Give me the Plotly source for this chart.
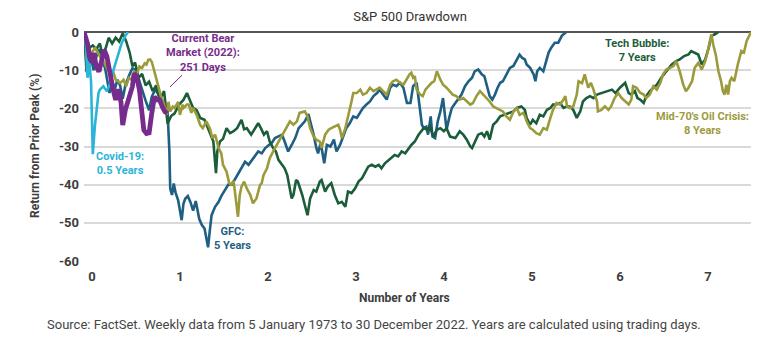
import plotly.graph_objects as go

# ---- Drawdown paths: years since prior peak vs. % return from that peak ----
tech_years = [0.00, 0.03, 0.05, 0.07, 0.10, 0.14, 0.18, 0.21, 0.25, 0.28, 0.32, 0.36, 0.40, 0.44, 0.48,
              0.52, 0.55, 0.58, 0.62, 0.66, 0.70, 0.74, 0.78, 0.82, 0.86, 0.91, 0.95, 0.99, 1.03, 1.08,
              1.13, 1.17, 1.20, 1.24, 1.28, 1.32, 1.37, 1.41, 1.44, 1.47, 1.50, 1.515, 1.545, 1.58, 1.62,
              1.66, 1.70, 1.74, 1.77, 1.79, 1.82, 1.85, 1.90, 1.94, 1.98, 2.01, 2.045, 2.08, 2.11, 2.15,
              2.18, 2.21, 2.25, 2.28, 2.31, 2.34, 2.36, 2.38, 2.41, 2.43, 2.45, 2.48, 2.51, 2.54, 2.57,
              2.61, 2.64, 2.68, 2.70, 2.74, 2.77, 2.81, 2.85, 2.89, 2.93, 2.97, 3.00, 3.04, 3.08, 3.12,
              3.16, 3.20, 3.23, 3.27, 3.31, 3.35, 3.38, 3.42, 3.46, 3.49, 3.53, 3.57, 3.61, 3.65, 3.69,
              3.72, 3.76, 3.80, 3.86, 3.90, 3.93, 3.97, 4.01, 4.05, 4.09, 4.12, 4.16, 4.22, 4.27, 4.31,
              4.35, 4.39, 4.41, 4.44, 4.48, 4.52, 4.55, 4.58, 4.61, 4.65, 4.69, 4.73, 4.78, 4.82, 4.88,
              4.92, 4.97, 5.01, 5.03, 5.07, 5.10, 5.14, 5.18, 5.22, 5.26, 5.30, 5.33, 5.37, 5.41, 5.45,
              5.49, 5.52, 5.56, 5.60, 5.64, 5.67, 5.71, 5.75, 5.79, 5.83, 5.88, 5.94, 6.00, 6.04, 6.09,
              6.15, 6.19, 6.22, 6.26, 6.29, 6.32, 6.36, 6.39, 6.43, 6.47, 6.51, 6.56, 6.62, 6.68, 6.73,
              6.77, 6.82, 6.87, 6.90, 6.94, 6.98, 7.02, 7.06, 7.10, 7.13, 7.17, 7.21]
tech_pct = [0, -10.5, -6, -4, -3.5, -4.5, -3, -6, -4, -1.5, -3, -1.5, -2.5, -0.3, -2.5,
            -5.5, -9, -8, -12, -11, -14, -13, -15.5, -14, -17.8, -15.5, -24, -22, -21.3, -19,
            -17.8, -16, -17.7, -19.9, -20.5, -22.5, -23, -25.2, -26.9, -28.7, -37, -31.3, -28.7, -28, -25.2,
            -26.5, -26, -25.2, -23.9, -23, -25.5, -25.2, -26.9, -25.5, -23.9, -25.2, -26.9, -26, -28.7, -30.4,
            -31.3, -33.5, -34.8, -35.7, -37.5, -41.8, -43.6, -42.7, -38.8, -39.2, -40.5, -42.7, -45.4, -48, -43.6,
            -41.4, -41.8, -39.2, -38.8, -41.8, -40.5, -39.6, -42.7, -44.9, -44.5, -45.8, -41.8, -42.2, -41, -39.2,
            -38.3, -36.6, -35.3, -34.8, -35.3, -34.8, -35.7, -34.4, -33.5, -33.1, -32.2, -32.6, -31.3, -31.8, -30.4,
            -29.6, -28.7, -27, -25.2, -25.6, -24.8, -27.4, -25.6, -25.2, -26, -25.2, -27.4, -27.8, -26, -26.9,
            -28.2, -30, -30.4, -28.7, -26.9, -26.5, -27.4, -26, -28.2, -24.3, -23.4, -22.1, -21.7, -21.2, -20.8,
            -19.9, -19.5, -20.4, -22.5, -24.3, -23, -23.9, -21.7, -22.1, -20.4, -19.9, -19, -19, -18.6, -19.9,
            -19.5, -19.5, -20.4, -22.5, -20.8, -18.2, -17.3, -16.8, -17.3, -16.4, -16, -15.5, -15.1, -16, -14.6,
            -13.3, -16, -16.4, -15.5, -17.3, -17.7, -18.6, -16.8, -15.5, -14.6, -13.8, -12, -10.3, -8.5, -7.6,
            -7.2, -6.3, -5.9, -5, -5.4, -5.9, -8.5, -7.2, -4.1, -1, -0.6, 0]

gfc_years = [0.00, 0.03, 0.06, 0.09, 0.11, 0.14, 0.17, 0.20, 0.24, 0.27, 0.29, 0.32, 0.35, 0.38, 0.41,
             0.44, 0.47, 0.51, 0.55, 0.59, 0.63, 0.66, 0.70, 0.74, 0.77, 0.81, 0.85, 0.89, 0.92, 0.95,
             0.97, 0.98, 1.00, 1.02, 1.04, 1.07, 1.09, 1.11, 1.13, 1.15, 1.18, 1.21, 1.24, 1.27, 1.31,
             1.34, 1.37, 1.41, 1.43, 1.45, 1.49, 1.53, 1.56, 1.60, 1.64, 1.68, 1.71, 1.75, 1.79, 1.83,
             1.87, 1.91, 1.94, 1.98, 2.02, 2.06, 2.10, 2.13, 2.17, 2.21, 2.25, 2.28, 2.32, 2.36, 2.40,
             2.44, 2.47, 2.51, 2.55, 2.58, 2.61, 2.64, 2.66, 2.69, 2.73, 2.76, 2.80, 2.84, 2.87, 2.91,
             2.95, 2.98, 3.02, 3.06, 3.10, 3.14, 3.17, 3.21, 3.25, 3.29, 3.33, 3.36, 3.40, 3.44, 3.48,
             3.51, 3.55, 3.59, 3.63, 3.67, 3.71, 3.74, 3.78, 3.80, 3.82, 3.84, 3.86, 3.89, 3.91, 3.94,
             3.96, 3.99, 4.02, 4.05, 4.08, 4.10, 4.12, 4.15, 4.18, 4.22, 4.25, 4.29, 4.33, 4.37, 4.41,
             4.44, 4.48, 4.52, 4.55, 4.58, 4.61, 4.64, 4.67, 4.70, 4.73, 4.76, 4.80, 4.84, 4.88, 4.92,
             4.95, 4.98, 5.01, 5.03, 5.07, 5.11, 5.13, 5.15, 5.18, 5.22, 5.24, 5.28, 5.31, 5.35, 5.39,
             5.43, 5.48]
gfc_pct = [0, -2.5, -5, -8, -10, -6.5, -4.5, -7, -9.5, -14, -16, -13, -15, -12.5, -14,
           -17.5, -14, -11.5, -9.5, -10, -13, -15.5, -18, -20.5, -17, -15, -16.5, -19, -20.8, -21,
           -31, -41, -42.7, -39.7, -42, -44.1, -47, -49.3, -45, -43.7, -43, -44.6, -46.8, -44.3, -49,
           -50.6, -51.5, -56.4, -52, -48, -45.8, -44.5, -43, -41.4, -40, -40, -38.8, -37.5, -35.7, -34,
           -34.8, -33.5, -32.6, -31.3, -31.8, -30.4, -29.6, -29.2, -27.8, -27.4, -26.9, -28.7, -31.3, -29.6, -27.8,
           -25.2, -24.3, -23.4, -21.5, -24, -26.9, -30.4, -31.8, -29, -34.4, -29.6, -30, -28.2, -31.3, -29.6,
           -26.9, -25.2, -23.9, -22.1, -22.5, -21.2, -19.9, -19, -18.2, -16.8, -16, -15.1, -16.4, -17.7, -14.6,
           -13.8, -14.2, -13.3, -14.6, -18.6, -18.6, -14.2, -13.3, -17.3, -20.8, -24.3, -25.2, -24.8, -26.9, -22.1,
           -27.4, -27.8, -23.4, -20.8, -17.3, -20.8, -25.6, -22.5, -19.9, -18.6, -17.7, -16.4, -14.2, -12.9, -12,
           -10.3, -9.8, -11.1, -11.6, -14.2, -16.8, -17.7, -16.4, -14.6, -13.3, -12.9, -11.1, -9.4, -8.9, -7.2,
           -5.9, -6.8, -7.2, -8.5, -9.4, -11.1, -12.9, -10.3, -9.4, -10.3, -8.5, -5.4, -4.1, -2.8, -2.8,
           -1, 0]

oil_years = [0.00, 0.03, 0.06, 0.09, 0.125, 0.16, 0.19, 0.22, 0.25, 0.30, 0.33, 0.36, 0.41, 0.45, 0.48,
             0.51, 0.54, 0.57, 0.60, 0.63, 0.66, 0.69, 0.71, 0.73, 0.75, 0.77, 0.79, 0.82, 0.84, 0.88,
             0.90, 0.94, 0.96, 0.98, 1.01, 1.03, 1.07, 1.09, 1.12, 1.13, 1.17, 1.19, 1.22, 1.24, 1.28,
             1.32, 1.35, 1.39, 1.43, 1.46, 1.49, 1.53, 1.56, 1.58, 1.62, 1.65, 1.67, 1.70, 1.73, 1.75,
             1.77, 1.79, 1.82, 1.85, 1.89, 1.92, 1.96, 2.00, 2.02, 2.04, 2.08, 2.11, 2.15, 2.19, 2.22,
             2.26, 2.30, 2.34, 2.38, 2.42, 2.45, 2.49, 2.51, 2.54, 2.57, 2.61, 2.64, 2.68, 2.70, 2.74,
             2.78, 2.81, 2.85, 2.89, 2.91, 2.93, 2.97, 3.00, 3.04, 3.06, 3.10, 3.14, 3.17, 3.21, 3.25,
             3.29, 3.33, 3.36, 3.40, 3.44, 3.48, 3.51, 3.55, 3.59, 3.63, 3.66, 3.70, 3.72, 3.74, 3.76,
             3.78, 3.82, 3.85, 3.88, 3.92, 3.95, 3.98, 4.01, 4.05, 4.08, 4.12, 4.16, 4.19, 4.23, 4.27,
             4.31, 4.35, 4.39, 4.42, 4.46, 4.50, 4.54, 4.58, 4.61, 4.65, 4.69, 4.73, 4.76, 4.80, 4.84,
             4.88, 4.92, 4.95, 4.99, 5.01, 5.03, 5.07, 5.10, 5.14, 5.18, 5.22, 5.26, 5.30, 5.33, 5.37,
             5.41, 5.45, 5.47, 5.49, 5.52, 5.56, 5.60, 5.62, 5.66, 5.69, 5.73, 5.76, 5.79, 5.83, 5.84,
             5.88, 5.92, 5.96, 5.99, 6.03, 6.07, 6.11, 6.15, 6.19, 6.22, 6.24, 6.28, 6.32, 6.36, 6.39,
             6.43, 6.47, 6.51, 6.55, 6.58, 6.62, 6.66, 6.70, 6.73, 6.77, 6.81, 6.84, 6.87, 6.91, 6.94,
             6.98, 7.02, 7.06, 7.08, 7.11, 7.13, 7.15, 7.18, 7.21, 7.24, 7.26, 7.28, 7.30, 7.32, 7.34,
             7.36, 7.39, 7.41, 7.43, 7.47, 7.50, 7.53, 7.56, 7.58]
oil_pct = [0, -3, -4.7, -5.5, -4.1, -5.5, -6.8, -7.5, -9, -10.8, -10.3, -12.5, -13.4, -12.5, -14.2,
           -12, -12.5, -10.4, -11.1, -9, -9.4, -8.2, -8.5, -7.3, -7.2, -7.8, -9.4, -12.1, -13.8, -17.4,
           -18.2, -21.7, -18.3, -20.8, -19.5, -19.9, -18.3, -21.7, -19, -19.9, -19, -19, -21.2, -19.9, -21.7,
           -24.3, -25.2, -23.4, -25.2, -27.8, -26.9, -30.4, -31.8, -34.8, -36.6, -39.6, -40, -39, -44.5, -48.4,
           -42.7, -40.5, -39.2, -41, -42.7, -44.9, -43.6, -40.1, -39.6, -37.5, -35.7, -33.1, -31.3, -29.6, -28.7,
           -26.9, -25.2, -23.4, -24.3, -23.4, -21.2, -20.8, -20.8, -22.1, -25.2, -27.4, -28.2, -28.7, -30.4, -26.9,
           -25.6, -25.2, -24.8, -24.3, -25.6, -27.8, -25.2, -22.5, -18.2, -16, -16, -15.1, -16.4, -16, -14.6,
           -15.5, -15.1, -14.6, -15.5, -16.4, -13.8, -12.9, -12.5, -13.3, -13.8, -12.5, -11.1, -10.7, -12, -11.6,
           -15.1, -16.4, -16.8, -15.1, -14.2, -13.3, -12.9, -10.3, -12.5, -13.8, -14.6, -15.5, -16.4, -16.8, -17.7,
           -17.3, -18.2, -19, -18.6, -16.8, -15.5, -16.4, -17.3, -18.2, -19.5, -19.9, -20.4, -20.8, -22.1, -23,
           -20.8, -19.9, -21.7, -21.2, -22, -23.4, -25.2, -25.6, -26.5, -26.9, -25.2, -25.6, -22.5, -20.4, -18.6,
           -19, -17.7, -16.8, -19.5, -19.9, -19.5, -16.4, -12.9, -13.4, -11.1, -14.6, -13.3, -15.1, -18.2, -20.8,
           -20.4, -19.5, -20.4, -19.5, -17.3, -16, -17.3, -18.2, -19, -17.7, -14.2, -14.6, -15.9, -16.4, -17.3,
           -16.4, -14.2, -15.1, -13.3, -11.1, -9.8, -9.4, -8.9, -7.6, -10.3, -13.8, -15.5, -14.6, -12.9, -9.4,
           -8.1, -9.8, -7.6, -5.9, -2.4, -0.6, -3.2, -6, -10.3, -12.9, -15.5, -16.4, -13.8, -16.4, -12.9,
           -12, -12.9, -10.3, -8.5, -5, -5.4, -2.4, -1.1, 0]

covid_years = [0.00, 0.02, 0.04, 0.06, 0.08, 0.10, 0.125, 0.145, 0.165, 0.18, 0.22, 0.26, 0.30, 0.33,
               0.37, 0.40, 0.43, 0.47, 0.50]
covid_pct = [0, -3, -12, -7.6, -13, -32, -24.3, -20.5, -16, -15.1, -14.2, -15.5, -13.3, -10.3,
             -7.2, -5, -2.8, -1, 0]

bear22_years = [0.00, 0.04, 0.06, 0.09, 0.11, 0.14, 0.17, 0.20, 0.23, 0.26, 0.30, 0.33, 0.36, 0.39,
                0.42, 0.44, 0.47, 0.51, 0.55, 0.57, 0.60, 0.63, 0.66, 0.68, 0.71, 0.74, 0.77, 0.80,
                0.83, 0.86, 0.89, 0.92, 0.95]
bear22_pct = [0, -3, -6.4, -8, -5.5, -9, -10.4, -6.8, -4.7, -6.4, -11.7, -15, -17.8, -15,
              -18.3, -24.4, -20.4, -17.8, -14.3, -10.8, -11.7, -15.2, -20.4, -25.7, -26.6, -26.4, -21.3, -17,
              -17.8, -17.8, -19.6, -20.9, -21.3]

y_ticks = [0, -10, -20, -30, -40, -50, -60]
y_tick_text = ["0", "-10", "-20", "-30", "-40", "-50", "-60"]
x_ticks = [0, 1, 2, 3, 4, 5, 6, 7]

PURPLE = "#772b8c"
CYAN = "#2cb4d8"
NAVY = "#1e5f83"
GREEN = "#1b5d3a"
OLIVE = "#9c9b3c"
TEXT = "#3d3d3d"
FONT = "Roboto"

fig = go.Figure()
series = [
    (gfc_years, gfc_pct, NAVY, 2.6),
    (tech_years, tech_pct, GREEN, 2.6),
    (oil_years, oil_pct, OLIVE, 2.6),
    (covid_years, covid_pct, CYAN, 2.6),
    (bear22_years, bear22_pct, PURPLE, 4.8),
]
for xs, ys, col, w in series:
    fig.add_trace(go.Scatter(x=xs, y=ys, mode="lines",
                             line=dict(color=col, width=w, shape="linear"),
                             hoverinfo="skip", showlegend=False))

# Series labels
labels = [
    ("Current Bear<br>Market (2022):<br>251 Days", 1.35, -5.4, PURPLE),
    ("Covid-19:<br>0.5 Years", 0.41, -34.5, CYAN),
    ("GFC:<br>5 Years", 1.69, -54.1, NAVY),
    ("Tech Bubble:<br>7 Years", 6.28, -4.9, GREEN),
    ("Mid-70's Oil Crisis:<br>8 Years", 7.03, -23.9, OLIVE),
]
for txt, x, y, col in labels:
    fig.add_annotation(x=x, y=y, text=txt, showarrow=False, xref="x", yref="y",
                       font=dict(family=FONT, size=11, color=col, weight="bold"),
                       align="center", xanchor="center", yanchor="middle")

# Leader line for the 2022 label
fig.add_shape(type="line", x0=0.977, y0=-14.4, x1=1.114, y1=-11.3, xref="x", yref="y",
              line=dict(color=PURPLE, width=1))

# Axis titles and source note
fig.add_annotation(text="Return from Prior Peak (%)", xref="paper", yref="paper",
                   x=-0.0735, y=0.502, textangle=-90, showarrow=False,
                   font=dict(family=FONT, size=12, color=TEXT, weight="bold"),
                   xanchor="center", yanchor="middle")
fig.add_annotation(text="Number of Years", xref="paper", yref="paper",
                   x=0.48, y=-0.1616, showarrow=False,
                   font=dict(family=FONT, size=12, color=TEXT, weight="bold"),
                   xanchor="center", yanchor="middle")
fig.add_annotation(text="Source: FactSet. Weekly data from 5 January 1973 to 30 December 2022. "
                        "Years are calculated using trading days.",
                   xref="paper", yref="paper", x=-0.0585, y=-0.279, showarrow=False,
                   font=dict(family=FONT, size=13, color="#454545"),
                   xanchor="left", yanchor="middle")

fig.update_layout(
    width=768, height=347,
    margin=dict(l=84, r=17, t=32, b=86),
    paper_bgcolor="white", plot_bgcolor="white",
    title=dict(text="S&P 500 Drawdown", x=0.534, y=0.954, xanchor="center", yanchor="middle",
               font=dict(family=FONT, size=13, color="#333333")),
    xaxis=dict(range=[0, 7.58], tickvals=x_ticks, showgrid=False, zeroline=False,
               showline=False, ticks="", ticklabelshift=8, ticklabelstandoff=6,
               tickfont=dict(family=FONT, size=13, color=TEXT, weight="bold")),
    yaxis=dict(range=[-60, 0], tickvals=y_ticks, ticktext=y_tick_text,
               showgrid=True, gridcolor="#d9d9d9", gridwidth=1.5,
               zeroline=True, zerolinecolor="#555555", zerolinewidth=2,
               showline=False, ticks="", ticklabelstandoff=4,
               tickfont=dict(family=FONT, size=13, color=TEXT, weight="bold")),
)

fig.write_html("out.html")
